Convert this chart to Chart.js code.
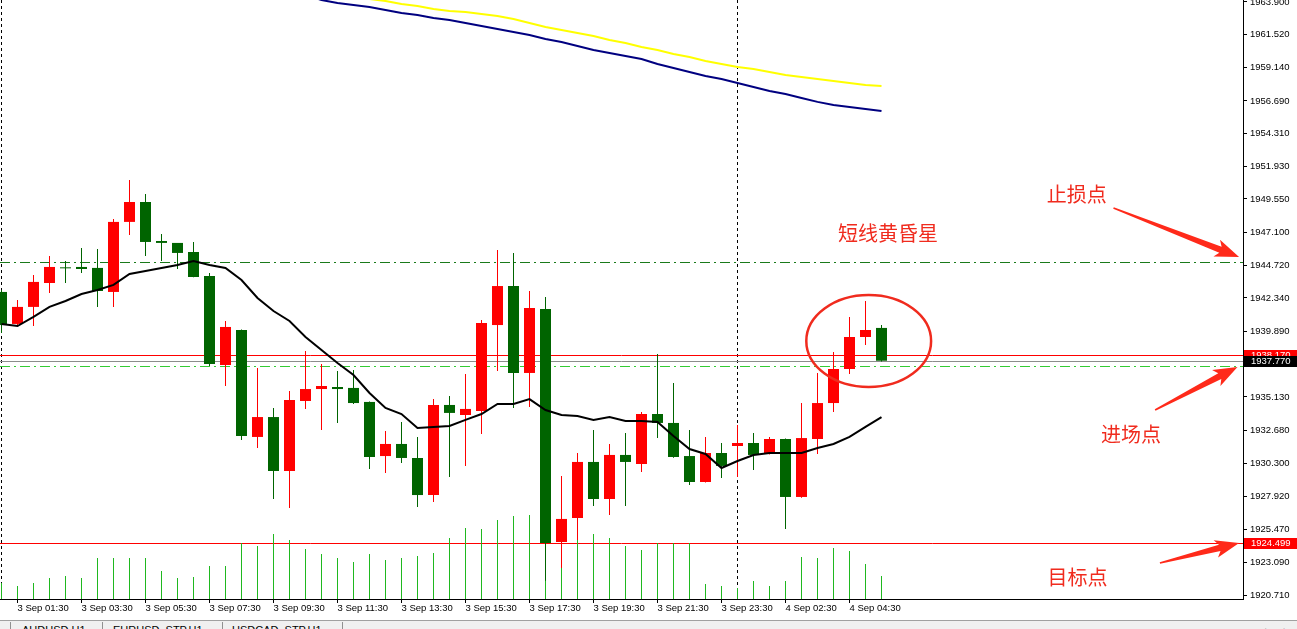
<!doctype html>
<html>
<head>
<meta charset="utf-8">
<title>XAUUSD,H1</title>
<script src="https://cdn.jsdelivr.net/npm/chart.js@4.4.1/dist/chart.umd.min.js"></script>
<style>
html, body { margin: 0; padding: 0; background: #fff; overflow: hidden; }
#wrap { position: relative; width: 1297px; height: 629px; }
canvas { display: block; }
#tabs {
	position: absolute; left: 0; top: 620px; width: 1297px; height: 9px;
	background: #f0f0f0; border-top: 1px solid #a0a0a0; overflow: hidden;
	font: 11px "Liberation Sans", sans-serif; color: #000;
}
.tab { position: absolute; top: 3px; white-space: nowrap; }
.sep { position: absolute; top: 1px; width: 1px; height: 10px; background: #909090; }
</style>
</head>
<body>
<div id="wrap">
	<canvas id="canvas" width="1297" height="620"></canvas>
	<div id="tabs">
		<div class="sep" style="left:10px"></div>
		<div class="tab" style="left:22px">AUDUSD,H1</div>
		<div class="sep" style="left:102px"></div>
		<div class="tab" style="left:113px">EURUSD_STP,H1</div>
		<div class="sep" style="left:222px"></div>
		<div class="tab" style="left:232px">USDCAD_STP,H1</div>
		<div class="sep" style="left:342px"></div>
		<div class="tab" style="left:1263px">&lsaquo;</div>
		<div class="tab" style="left:1283px">&rsaquo;</div>
	</div>
</div>

<script>
// 30 minute bars, 3 Sep 01:00 .. 4 Sep 05:30
var opens = [1942.78,1940.45,1941.69,1943.43,1944.55,1944.60,1944.53,1942.78,1947.88,1949.33,
	1946.49,1946.35,1945.69,1943.94,1937.46,1940.01,1932.22,1933.67,1929.74,1934.84,
	1935.71,1935.86,1935.79,1934.77,1930.83,1931.71,1930.69,1927.99,1934.55,1933.82,
	1934.11,1940.37,1943.21,1936.88,1941.54,1924.57,1926.32,1930.40,1927.70,1930.91,
	1930.25,1933.89,1933.24,1930.83,1928.94,1931.05,1931.56,1931.78,1930.98,1932.07,
	1927.85,1932.07,1934.69,1937.17,1939.50,1940.16];
var highs = [1942.92,1942.19,1944.02,1945.40,1945.04,1945.98,1945.91,1948.09,1950.93,1949.92,
	1947.00,1946.35,1946.42,1944.16,1940.67,1940.05,1937.24,1934.33,1935.57,1938.48,
	1937.53,1937.02,1937.10,1934.80,1932.65,1933.31,1932.22,1934.98,1935.20,1936.81,
	1940.74,1945.84,1945.62,1942.85,1942.41,1929.38,1931.05,1932.73,1931.71,1932.51,
	1934.04,1938.26,1936.15,1932.73,1932.22,1931.78,1933.09,1932.51,1932.22,1932.10,
	1934.69,1936.88,1938.41,1940.96,1942.12,1940.37];
var lows = [1939.79,1940.30,1940.30,1942.70,1943.43,1944.16,1941.69,1941.69,1946.93,1945.40,
	1945.04,1944.45,1943.85,1937.39,1935.93,1932.00,1931.42,1927.70,1927.05,1934.26,
	1932.73,1933.24,1934.62,1929.89,1929.60,1930.32,1927.12,1927.48,1929.30,1930.11,
	1932.44,1937.02,1934.33,1934.40,1921.75,1922.68,1924.72,1927.19,1926.54,1927.19,
	1929.67,1932.14,1930.70,1928.72,1928.90,1929.23,1929.30,1929.81,1930.95,1925.52,
	1927.80,1930.98,1934.04,1936.81,1938.92,1937.72];
var closes = [1940.37,1941.69,1943.51,1944.60,1944.50,1944.45,1942.85,1947.88,1949.33,1946.42,
	1946.35,1945.62,1943.87,1937.53,1940.23,1932.29,1933.67,1929.74,1934.91,1935.71,
	1935.93,1935.71,1934.69,1930.76,1931.71,1930.69,1927.99,1934.55,1933.97,1934.26,
	1940.52,1943.21,1936.88,1941.61,1924.50,1926.25,1930.40,1927.70,1930.91,1930.40,
	1933.89,1933.24,1930.76,1928.94,1931.05,1930.11,1931.78,1930.91,1932.07,1927.85,
	1932.14,1934.69,1937.17,1939.50,1940.01,1937.77];
var volumes = [800,650,800,1050,1150,1050,2050,2050,2050,2050,
	1400,1050,1100,1650,1650,2800,2650,3250,2950,2500,
	2250,2050,1850,2250,1950,2050,2150,2300,3050,3550,
	3500,3950,4150,4200,4350,4300,3200,3250,3050,2650,
	2450,2800,2800,2800,750,650,550,900,650,900,
	2100,2050,2550,2400,1750,1150];
var maBlack = [1940.45,1940.30,1940.96,1941.69,1942.12,1942.63,1942.92,1943.29,1944.09,1944.31,
	1944.53,1944.74,1945.04,1944.74,1944.53,1943.65,1942.34,1941.39,1940.67,1939.50,
	1938.55,1937.61,1936.73,1935.42,1934.33,1933.89,1932.87,1932.94,1933.02,1933.46,
	1933.89,1934.62,1934.62,1934.98,1934.18,1933.82,1933.75,1933.46,1933.67,1933.38,
	1933.38,1933.31,1932.29,1931.34,1930.98,1929.96,1930.47,1930.91,1931.05,1931.05,
	1931.05,1931.42,1931.71,1932.22,1932.95,1933.67];
var maYellow = [null,null,null,null,null,null,null,null,null,null,
	null,null,null,null,null,null,null,null,null,null,
	null,null,null,1964.11,1963.97,1963.75,1963.60,1963.38,1963.24,1963.17,
	1963.02,1962.88,1962.66,1962.37,1962.08,1961.86,1961.64,1961.42,1961.13,1960.91,
	1960.62,1960.40,1960.11,1959.89,1959.60,1959.38,1959.16,1959.02,1958.80,1958.58,
	1958.44,1958.29,1958.15,1958.00,1957.85,1957.78];
var maBlue = [null,null,null,null,null,null,null,null,null,null,
	null,null,null,null,null,null,null,null,null,1964.41,
	1964.04,1963.82,1963.68,1963.53,1963.31,1963.10,1962.95,1962.73,1962.59,1962.37,
	1962.15,1961.93,1961.71,1961.49,1961.20,1960.98,1960.69,1960.40,1960.18,1959.96,
	1959.74,1959.38,1959.09,1958.80,1958.51,1958.29,1958.00,1957.71,1957.42,1957.20,
	1956.91,1956.62,1956.40,1956.25,1956.11,1955.96];

var timeTickIndex = [1,5,9,13,17,21,25,29,33,37,41,45,49,53];
var timeTickLabels = ['3 Sep 01:30','3 Sep 03:30','3 Sep 05:30','3 Sep 07:30','3 Sep 09:30',
	'3 Sep 11:30','3 Sep 13:30','3 Sep 15:30','3 Sep 17:30','3 Sep 19:30','3 Sep 21:30',
	'3 Sep 23:30','4 Sep 02:30','4 Sep 04:30'];
var priceTicks = [1920.710,1923.090,1925.470,1927.920,1930.300,1932.680,1935.130,1937.510,
	1939.890,1942.340,1944.720,1947.100,1949.550,1951.930,1954.310,1956.690,1959.140,
	1961.520,1963.900];

var stopLevel = 1944.95;     // green dash-dot (stop loss)
var entryLevel = 1937.40;    // light green dash-dot (entry)
var askLevel = 1938.17;
var bidLevel = 1937.77;
var targetLevel = 1924.499;
var daySeparators = [0, 46];

var UP = '#ff0000', DOWN = '#006400';
var axisFont = { family: 'Liberation Sans', size: 9.5 };

function candleColor(i) { return closes[i] >= opens[i] ? UP : DOWN; }
function xy(arr) {
	var out = [];
	for (var i = 0; i < arr.length; i++) {
		if (arr[i] !== null) out.push({ x: i, y: arr[i] });
	}
	return out;
}

var bodies = [], wicks = [], vols = [], colors = [];
for (var i = 0; i < opens.length; i++) {
	bodies.push({ x: i, y: [opens[i], closes[i]] });
	wicks.push({ x: i, y: [lows[i], highs[i]] });
	vols.push({ x: i, y: volumes[i] });
	colors.push(candleColor(i));
}

function noPadding(s) {
	s.paddingTop = 0; s.paddingBottom = 0; s.paddingLeft = 0; s.paddingRight = 0;
}

function drawArrow(ctx, x1, y1, x2, y2) {
	var len = Math.hypot(x2 - x1, y2 - y1);
	var ang = Math.atan2(y2 - y1, x2 - x1);
	var hl = 20, hw = 9;
	ctx.save();
	ctx.translate(x1, y1);
	ctx.rotate(ang);
	ctx.beginPath();
	ctx.moveTo(0, -0.8);
	ctx.lineTo(len - hl, -3.2);
	ctx.lineTo(len - hl - 4, -hw);
	ctx.lineTo(len, 0);
	ctx.lineTo(len - hl - 4, hw);
	ctx.lineTo(len - hl, 3.2);
	ctx.lineTo(0, 0.8);
	ctx.closePath();
	ctx.fillStyle = '#ff2a1a';
	ctx.fill();
	ctx.restore();
}

// hand drawn notes, anchored in bar index / price space
var notes = [
	{ text: '止损点', x: 67.2, y: 1949.91 },
	{ text: '短线黄昏星', x: 55.4, y: 1947.07 },
	{ text: '进场点', x: 70.6, y: 1932.44 },
	{ text: '目标点', x: 67.25, y: 1922.02 }
];
var arrows = [
	[69.5, 1948.90, 77.35, 1945.33],
	[72.1, 1934.18, 77.25, 1937.32],
	[72.4, 1923.04, 77.35, 1924.50]
];
var circle = { x: 54.2, y: 1939.21, rx: 3.9, ry: 3.35 };

var overlay = {
	id: 'overlay',
	beforeDatasetsDraw: function(chart) {
		var ctx = chart.ctx, a = chart.chartArea, x = chart.scales.x, y = chart.scales.y;
		ctx.save();
		ctx.beginPath(); ctx.rect(a.left, a.top, a.right - a.left, a.bottom - a.top); ctx.clip();
		ctx.lineWidth = 1;

		ctx.strokeStyle = '#000';
		ctx.setLineDash([3, 3]);
		daySeparators.forEach(function(i) {
			var px = x.getPixelForValue(i);
			ctx.beginPath(); ctx.moveTo(px, a.top); ctx.lineTo(px, a.bottom); ctx.stroke();
		});

		function hline(v, color, dash) {
			var py = Math.round(y.getPixelForValue(v)) + 0.5;
			ctx.strokeStyle = color;
			ctx.setLineDash(dash);
			ctx.beginPath(); ctx.moveTo(a.left, py); ctx.lineTo(a.right, py); ctx.stroke();
		}
		hline(stopLevel, '#1a7a1a', [10, 4, 2, 4]);
		hline(entryLevel, '#33cc33', [10, 4, 2, 4]);
		hline(askLevel, '#ff0000', []);
		hline(bidLevel, '#8c8c8c', []);
		hline(targetLevel, '#ff0000', []);
		ctx.restore();
	},
	afterDraw: function(chart) {
		var ctx = chart.ctx, a = chart.chartArea, x = chart.scales.x, y = chart.scales.y;
		ctx.save();

		function badge(v, bg) {
			var py = Math.round(y.getPixelForValue(v));
			ctx.fillStyle = bg;
			ctx.fillRect(a.right + 1, py - 5, chart.width - a.right - 1, 11);
			ctx.fillStyle = '#fff';
			ctx.font = '9.5px "Liberation Sans"';
			ctx.textBaseline = 'middle';
			ctx.textAlign = 'left';
			ctx.fillText(v.toFixed(3), a.right + 8, py + 0.5);
		}
		badge(askLevel, '#ff0000');
		badge(bidLevel, '#000');
		badge(targetLevel, '#ff0000');

		ctx.strokeStyle = '#f02b1e';
		ctx.lineWidth = 2.5;
		ctx.beginPath();
		var cx = x.getPixelForValue(circle.x), cy = y.getPixelForValue(circle.y);
		var rx = x.getPixelForValue(circle.x + circle.rx) - cx;
		var ry = cy - y.getPixelForValue(circle.y + circle.ry);
		ctx.ellipse(cx, cy, rx, ry, 0, 0, Math.PI * 2);
		ctx.stroke();

		ctx.fillStyle = '#f02b1e';
		ctx.font = '20px "Noto Sans CJK SC"';
		ctx.textAlign = 'center';
		ctx.textBaseline = 'middle';
		notes.forEach(function(n) {
			ctx.fillText(n.text, x.getPixelForValue(n.x), y.getPixelForValue(n.y));
		});

		arrows.forEach(function(r) {
			drawArrow(ctx, x.getPixelForValue(r[0]), y.getPixelForValue(r[1]),
				x.getPixelForValue(r[2]), y.getPixelForValue(r[3]));
		});
		ctx.restore();
	}
};

var xMin = -1.5 / 16;
var xMax = xMin + 1243 / 16;

var ctx = document.getElementById('canvas').getContext('2d');
window.myChart = new Chart(ctx, {
	type: 'bar',
	data: {
		datasets: [
			{ type: 'line', data: xy(maBlack), borderColor: '#000', borderWidth: 2, pointRadius: 0, order: 0, yAxisID: 'y' },
			{ type: 'line', data: xy(maYellow), borderColor: '#ffff00', borderWidth: 2, pointRadius: 0, order: 0, yAxisID: 'y' },
			{ type: 'line', data: xy(maBlue), borderColor: '#000080', borderWidth: 2, pointRadius: 0, order: 0, yAxisID: 'y' },
			{ data: bodies, backgroundColor: colors, barThickness: 11, minBarLength: 1, grouped: false,
				borderWidth: 0, inflateAmount: 0, order: 1, yAxisID: 'y' },
			{ data: wicks, backgroundColor: colors, barThickness: 1, grouped: false,
				borderWidth: 0, inflateAmount: 0, order: 2, yAxisID: 'y' },
			{ data: vols, backgroundColor: '#1fb81f', barThickness: 1, grouped: false,
				borderWidth: 0, inflateAmount: 0, order: 5, yAxisID: 'vol' }
		]
	},
	options: {
		responsive: false,
		animation: false,
		events: [],
		layout: { padding: 0 },
		plugins: { legend: { display: false }, tooltip: { enabled: false } },
		scales: {
			x: {
				type: 'linear', min: xMin, max: xMax, offset: false, position: 'bottom',
				grid: { drawOnChartArea: false, drawTicks: true, tickLength: 4, color: '#000', offset: false },
				border: { color: '#000', width: 1 },
				ticks: {
					align: 'start', autoSkip: false, maxRotation: 0, padding: 0,
					color: '#000', font: axisFont,
					callback: function(v, i) { return timeTickLabels[i]; }
				},
				afterBuildTicks: function(s) { s.ticks = timeTickIndex.map(function(v) { return { value: v }; }); },
				afterFit: function(s) { s.height = 21; noPadding(s); }
			},
			y: {
				type: 'linear', position: 'right', min: 1920.42, max: 1964.04,
				grid: { drawOnChartArea: false, drawTicks: true, tickLength: 4, color: '#000' },
				border: { color: '#000', width: 1 },
				ticks: {
					autoSkip: false, padding: 3, color: '#000', font: axisFont,
					callback: function(v) { return v.toFixed(3); }
				},
				afterBuildTicks: function(s) { s.ticks = priceTicks.map(function(v) { return { value: v }; }); },
				afterFit: function(s) { s.width = 54; noPadding(s); }
			},
			vol: { type: 'linear', display: false, min: 0, max: 29950 }
		}
	},
	plugins: [overlay]
});
</script>
</body>
</html>
